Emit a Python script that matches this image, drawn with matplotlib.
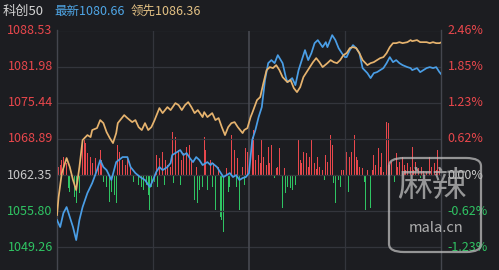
import matplotlib
matplotlib.use("Agg")
import matplotlib.pyplot as plt
from matplotlib.patches import FancyBboxPatch

plt.rcParams['font.family'] = ['Noto Sans CJK SC', 'DejaVu Sans']

# ---------------- data ----------------
index_name = "科创50"
latest = 1080.66
leading = 1086.36
prev_close = 1062.35

left_ticks = [1088.53, 1081.98, 1075.44, 1068.89, 1062.35, 1055.80, 1049.26]
right_ticks = ["2.46%", "1.85%", "1.23%", "0.62%", "0.00%", "-0.62%", "-1.23%"]

price_t = [0, 2, 4, 6, 8, 10, 12, 14, 16, 19, 22, 25, 27, 29, 31, 34, 37, 41, 44, 46,
           49, 52, 55, 58, 60, 62, 64, 66, 69, 71, 72, 75, 77, 79, 81, 83, 85, 87, 89, 91,
           94, 96, 97, 100, 102, 104, 106, 108, 110, 112, 114, 116, 118, 120, 122, 124, 126, 128, 130, 132,
           134, 136, 138, 141, 143, 144, 147, 149, 151, 153, 155, 157, 159, 161, 163, 166, 168, 169, 172, 174,
           176, 178, 180, 181, 183, 185, 187, 189, 191, 194, 196, 198, 200, 202, 204, 206, 208, 210, 212, 214,
           216, 219, 221, 222, 225, 227, 229, 231, 233, 235, 237, 239, 240]
price_v = [1054.21, 1052.94, 1055.47, 1056.56, 1054.75, 1052.94, 1050.58, 1054.21, 1056.56, 1059.09,
           1060.90, 1063.25, 1065.07, 1063.80, 1063.25, 1061.45, 1064.70, 1065.61, 1065.61, 1063.80,
           1062.71, 1061.99, 1061.45, 1060.18, 1061.45, 1062.89, 1063.80, 1063.25, 1063.80, 1064.52,
           1065.97, 1066.51, 1066.88, 1065.97, 1066.33, 1065.43, 1064.70, 1065.61, 1065.07, 1064.16,
           1064.70, 1064.16, 1064.52, 1063.80, 1062.89, 1061.99, 1062.35, 1062.71, 1061.99, 1062.35,
           1061.45, 1061.81, 1061.99, 1062.71, 1068.69, 1070.50, 1072.85, 1074.66, 1079.55, 1082.62,
           1083.17, 1082.62, 1084.07, 1082.62, 1080.09, 1079.18, 1079.91, 1078.64, 1081.36, 1083.17,
           1084.98, 1083.17, 1084.43, 1086.24, 1086.79, 1085.52, 1086.42, 1085.52, 1087.69, 1086.79,
           1085.34, 1084.43, 1083.71, 1083.71, 1084.98, 1085.88, 1085.34, 1084.43, 1081.72, 1080.81,
           1079.91, 1080.81, 1080.99, 1081.36, 1081.72, 1082.62, 1083.71, 1082.80, 1083.17, 1082.62,
           1082.26, 1081.90, 1081.72, 1081.36, 1081.72, 1080.99, 1081.36, 1081.72, 1081.90, 1081.72,
           1081.90, 1081.00, 1080.66]

lead_t = [0, 1, 2, 3, 5, 6, 8, 10, 12, 14, 16, 19, 21, 22, 25, 27, 29, 31, 33, 35,
          37, 38, 41, 42, 44, 47, 49, 51, 53, 55, 57, 59, 61, 64, 66, 69, 71, 74, 76, 78,
          80, 82, 84, 86, 88, 91, 92, 94, 97, 99, 101, 103, 105, 107, 109, 111, 113, 116, 117, 119,
          121, 122, 125, 127, 129, 131, 133, 135, 137, 139, 141, 144, 146, 148, 150, 152, 154, 156, 158, 160,
          162, 164, 166, 169, 171, 173, 175, 177, 179, 181, 183, 185, 187, 189, 191, 194, 196, 198, 200, 202,
          204, 206, 208, 210, 212, 214, 216, 219, 221, 222, 225, 227, 229, 231, 233, 235, 237, 239, 240]
lead_v = [1055.11, 1058.37, 1060.54, 1062.71, 1064.52, 1065.43, 1063.80, 1061.45, 1059.63, 1063.80,
          1068.69, 1069.59, 1069.23, 1070.50, 1070.86, 1072.31, 1071.76, 1070.13, 1069.05, 1068.14,
          1069.95, 1071.76, 1072.85, 1073.21, 1072.67, 1071.94, 1072.31, 1071.04, 1070.50, 1071.76,
          1070.50, 1071.04, 1072.31, 1074.48, 1073.57, 1074.66, 1074.12, 1075.38, 1075.02, 1074.12,
          1075.02, 1075.56, 1074.66, 1073.57, 1074.12, 1072.85, 1073.75, 1072.85, 1073.57, 1072.31,
          1072.67, 1071.04, 1069.59, 1071.04, 1071.76, 1071.94, 1071.04, 1069.95, 1070.50, 1070.86,
          1072.85, 1073.57, 1075.93, 1076.47, 1079.00, 1081.36, 1081.90, 1081.72, 1082.26, 1081.36,
          1080.09, 1079.18, 1079.55, 1078.10, 1077.37, 1078.28, 1080.09, 1080.99, 1081.90, 1082.80,
          1083.53, 1082.80, 1081.90, 1082.62, 1083.17, 1082.80, 1082.62, 1083.17, 1084.07, 1084.43,
          1085.34, 1085.52, 1085.34, 1084.43, 1083.17, 1082.26, 1082.62, 1082.80, 1083.17, 1083.53,
          1083.71, 1084.43, 1085.52, 1086.24, 1086.24, 1086.42, 1086.24, 1086.42, 1086.79, 1086.60,
          1086.79, 1086.42, 1086.42, 1086.42, 1086.24, 1086.42, 1086.24, 1086.24, 1086.36]

bar_t = [1, 2, 3, 4, 6, 7, 8, 10, 11, 12, 14, 15, 16, 17, 18, 19, 20, 21, 22, 24,
         26, 27, 28, 29, 30, 31, 33, 34, 36, 37, 38, 39, 40, 41, 43, 44, 45, 46, 48, 50,
         51, 53, 54, 56, 57, 58, 59, 60, 61, 62, 63, 64, 65, 66, 67, 68, 69, 70, 71, 72,
         73, 74, 75, 76, 77, 78, 79, 80, 81, 83, 84, 85, 86, 87, 88, 89, 90, 91, 92, 93,
         94, 95, 96, 97, 98, 99, 100, 101, 102, 103, 104, 105, 106, 107, 108, 109, 110, 111, 112, 113,
         114, 115, 116, 117, 118, 119, 120, 122, 123, 124, 125, 126, 127, 128, 129, 130, 131, 132, 133, 134,
         136, 137, 138, 139, 140, 141, 142, 143, 144, 145, 146, 147, 149, 151, 152, 153, 154, 155, 156, 157,
         158, 159, 160, 161, 162, 163, 164, 165, 166, 167, 168, 169, 170, 171, 172, 173, 174, 175, 176, 177,
         178, 179, 180, 181, 182, 183, 184, 185, 186, 187, 188, 189, 190, 191, 192, 193, 194, 195, 196, 197,
         198, 199, 200, 201, 202, 203, 204, 205, 206, 207, 208, 209, 210, 211, 212, 213, 214, 215, 216, 217,
         218, 219, 220, 221, 222, 223, 224, 225, 226, 227, 228, 229, 230, 231, 233, 234, 235, 236, 237, 238,
         239, 240]
bar_v = [8, 10, 15, 18, 12, -13, -17, -12, -22, -28, -18, -7, 33, 38, 32, 22, 15, 18, 12, 17,
         10, 25, 15, -7, 8, -12, -27, -17, -20, -28, 30, 23, 28, 15, 10, 18, -25, 7, -7, 35,
         -10, -12, -15, -10, -20, -35, -12, 25, -7, 20, -12, 17, 32, 23, -10, 15, 10, -15, 8, 43,
         -8, 38, -7, 25, -10, 15, 22, -17, 28, 30, 15, -22, -25, 8, -28, -15, -48, -12, 38, 25,
         -15, -23, 15, -12, 12, -35, -22, 8, -42, -45, -57, -48, 7, -17, -12, 40, 35, 25, -12, 17,
         -35, -45, 8, -10, 27, 23, -7, 38, 45, 15, 42, 20, 12, 35, 18, 32, 10, 28, 12, 30,
         -3, 7, 8, 27, 5, -33, 7, -18, -12, -15, -13, -15, -10, 35, 15, 12, 23, 10, 22, 8,
         18, 35, 35, 12, 6, 18, 8, -22, 5, -5, 20, 13, 8, 40, 30, -8, -28, 12, -5, -12,
         5, 5, 10, 23, -17, 18, 23, 47, 40, 18, 15, 8, 5, 7, -7, -35, 5, -15, -33, 5,
         20, 10, 13, 27, 8, 22, 3, 25, 53, 52, 10, 13, 38, -7, 22, 8, 13, 6, 18, 10,
         5, 12, 6, 8, 28, 5, 13, 6, 7, -3, 8, 4, 5, 3, 18, 8, 4, 12, 5, 25,
         6, 8]

# ---------------- styling ----------------
BG = '#1c1d21'
GRID = '#33353c'
RED = '#e8474c'
GREEN = '#2fc463'
BLUE = '#4a9ee6'
ORANGE = '#e6b36e'
GRAYTXT = '#c9c9c9'

W, H = 499, 270
fig = plt.figure(figsize=(W / 100, H / 100), dpi=100, facecolor=BG)
ax_left, ax_right, ax_top = 57 / W, 441 / W, 1 - 30.5 / H
ax = fig.add_axes([ax_left, 0, ax_right - ax_left, ax_top])
ax.set_facecolor(BG)

step = left_ticks[0] - left_ticks[1]
ymax = left_ticks[0]
px_per_step = 36.17
ymin = ymax - step * (ax_top * H) / px_per_step
ax.set_ylim(ymin, ymax)
ax.set_xlim(0, 240)

# buy/sell strength bars on a twin axis sharing the baseline
axb = ax.twinx()
frac = (prev_close - ymin) / (ymax - ymin)
span = ax_top * H
axb.set_ylim(-frac * span, (1 - frac) * span)
colors = [RED if v > 0 else GREEN for v in bar_v]
axb.bar(bar_t, bar_v, width=0.6, color=colors, linewidth=0, zorder=2)
axb.axis('off')

# grid
for v in left_ticks:
    ax.axhline(v, color=GRID, lw=0.9, zorder=0)
for xv in [60, 180]:
    ax.axvline(xv, color=GRID, lw=0.9, zorder=0)
ax.axvline(120, color='#4a4c54', lw=1.1, zorder=0)

ax.plot(price_t, price_v, color=BLUE, lw=1.25, zorder=5)
ax.plot(lead_t, lead_v, color=ORANGE, lw=1.25, zorder=6)
ax.set_zorder(axb.get_zorder() + 1)
ax.patch.set_visible(False)
axb.patch.set_facecolor(BG)

ax.set_xticks([])
ax.set_yticks([])
for s in ['top', 'bottom']:
    ax.spines[s].set_visible(False)
for s in ['left', 'right']:
    ax.spines[s].set_color('#44464e')
    ax.spines[s].set_linewidth(1.0)

# axis labels
for i, v in enumerate(left_ticks):
    c = RED if v > prev_close else (GREEN if v < prev_close else GRAYTXT)
    ax.text(-0.011, v, f"{v:.2f}", transform=ax.get_yaxis_transform(),
            ha='right', va='center', color=c, fontsize=9)
    ax.text(1.017, v, right_ticks[i], transform=ax.get_yaxis_transform(),
            ha='left', va='center', color=c, fontsize=9)

# header
fig.text(3 / W, 1 - 11 / H, index_name, color='#d4d4d4', fontsize=9.5, va='center', ha='left')
fig.text(54 / W, 1 - 11 / H, f"最新{latest:.2f}", color='#4fa6e6', fontsize=9, va='center', ha='left')
fig.text(131 / W, 1 - 11 / H, f"领先{leading:.2f}", color='#e3c184', fontsize=9, va='center', ha='left')

# watermark
box = FancyBboxPatch((389 / W, 1 - 252 / H), 92 / W, 94 / H,
                     boxstyle="round,pad=0,rounding_size=0.03",
                     transform=fig.transFigure, fill=False,
                     edgecolor='#bdbdbd', lw=1.6, alpha=0.75, zorder=20)
fig.patches.append(box)
fig.text(432 / W, 1 - 186 / H, "麻辣", color='#b5b5b5', fontsize=25, ha='center', va='center',
         alpha=0.8, zorder=21)
fig.text(436 / W, 1 - 228 / H, "mala.cn", color='#c8c8c8', fontsize=10.5, ha='center', va='center',
         alpha=0.85, zorder=21)

fig.savefig("out.png", dpi=100, facecolor=BG)
